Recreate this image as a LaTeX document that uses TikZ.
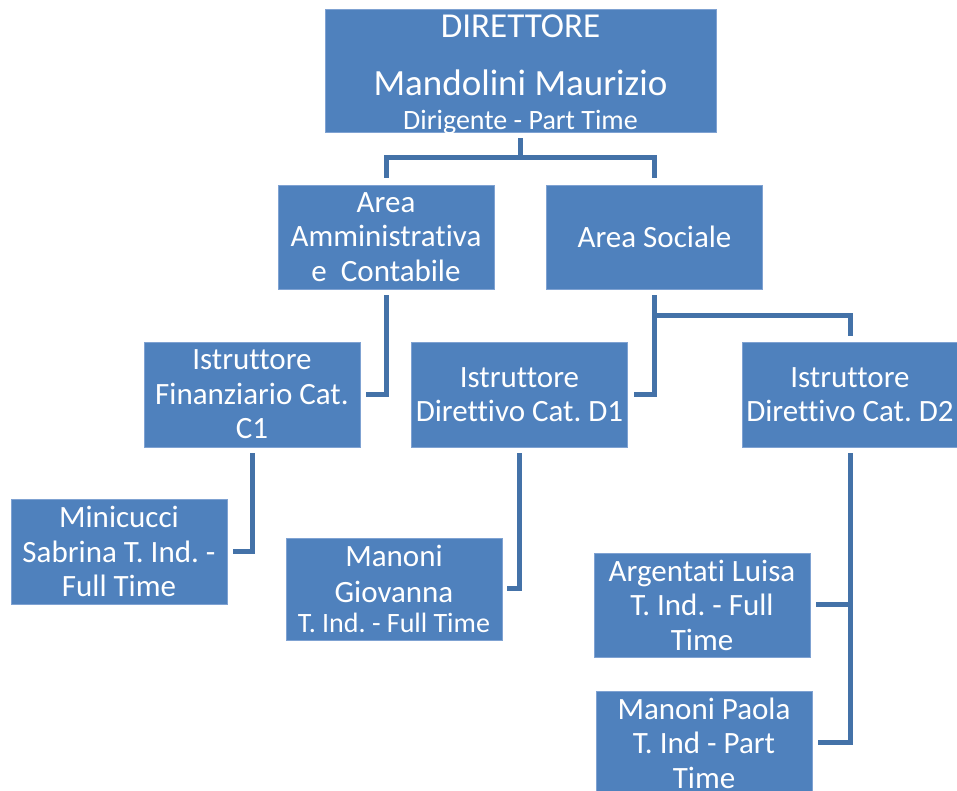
\documentclass[tikz,border=0pt]{standalone}
\usepackage{fontspec}
\setmainfont{Carlito}[Ligatures=NoCommon]
\usepackage{tikz}
\usetikzlibrary{arrows.meta}
\definecolor{boxblue}{HTML}{4F81BD}
\definecolor{boxedge}{HTML}{7FA2D2}
\definecolor{linkblue}{HTML}{4472A8}
\frenchspacing
\tikzset{
	box/.style={fill=boxblue, draw=boxedge, line width=0.8pt, shape=rectangle, align=center, text=white,
		inner sep=0pt, minimum width=216pt, minimum height=104pt, font=\fontsize{31}{34.5}\selectfont},
	link/.style={draw=linkblue, line width=5pt, line join=miter, fill=none},
}

\begin{document}
\begin{tikzpicture}[x=1pt, y=1pt]
	\useasboundingbox (0, 0) rectangle (957, 791);
	\node [box, minimum width=391pt, minimum height=123pt, inner ysep=-5pt] (0) at (520.5, 720.5) {{\fontsize{35}{40}\selectfont\rule{0pt}{31pt}DIRETTORE}\\[23.5pt]{\fontsize{37}{40}\selectfont Mandolini Maurizio}\\[-1pt]{\fontsize{28}{32}\selectfont Dirigente - Part Time}};
	\node [box] (1) at (386, 554) {Area\\Amministrativa\\e\ \ Contabile};
	\node [box] (2) at (654.5, 554) {Area Sociale};
	\node [box, minimum height=105pt] (3) at (252, 396.5) {Istruttore\\Finanziario Cat.\\C1};
	\node [box, minimum height=105pt] (4) at (519.5, 396.5) {Istruttore\\Direttivo Cat. D1};
	\node [box, minimum height=105pt] (5) at (850, 396.5) {Istruttore\\Direttivo Cat. D2};
	\node [box, minimum height=105pt] (6) at (119, 239.5) {Minicucci\\Sabrina T. Ind. -\\Full Time};
	\node [box, minimum height=102pt] (7) at (394, 202) {Manoni\\[1.5pt]Giovanna\\[-4.5pt]{\fontsize{28}{30}\selectfont T. Ind. - Full Time}};
	\node [box] (8) at (702, 186) {Argentati Luisa\\T. Ind. - Full\\Time};
	\node [box] (9) at (704, 48) {Manoni Paola\\T. Ind - Part\\Time};
	\draw [link] ([yshift=-6pt]0.south) -- ++(0, -19) -| ([yshift=7pt]1.north);
	\draw [link] ([yshift=-6pt]0.south) -- ++(0, -19) -| ([yshift=7pt]2.north);
	\draw [link] ([yshift=-6pt]1.south) |- ([xshift=6pt]3.east);
	\draw [link] ([yshift=-6pt]2.south) |- ([xshift=6pt]4.east);
	\draw [link] ([yshift=-6pt]2.south) -- ++(0, -20) -| ([yshift=6pt]5.north);
	\draw [link] ([yshift=-6pt]3.south) |- ([xshift=6pt]6.east);
	\draw [link] ([yshift=-6pt]4.south) |- ([xshift=5pt]7.east);
	\draw [link] ([yshift=-6pt]5.south) |- ([xshift=6pt]8.east);
	\draw [link] ([yshift=-6pt]5.south) |- ([xshift=6pt]9.east);
\end{tikzpicture}
\end{document}
